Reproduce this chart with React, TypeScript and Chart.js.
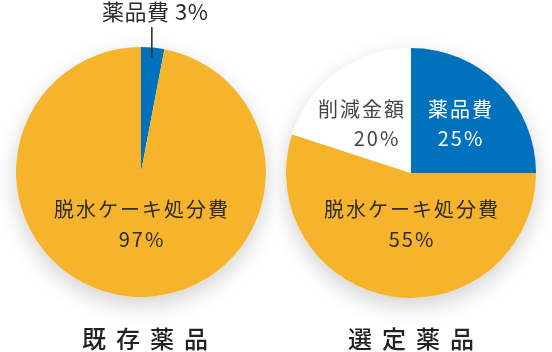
import React, { useEffect, useRef } from "react";
import { Chart, registerables } from "chart.js";

Chart.register(...registerables);

const categories = ["薬品費", "脱水ケーキ処分費", "削減金額"];
const existingValues = [3, 97, 0];
const selectedValues = [25, 55, 20];
const pieTitles = ["既存薬品", "選定薬品"];
const sliceColors = ["#0071BC", "#F6B42C", "#FFFFFF"];

const FONT = "'Noto Sans CJK JP', 'Noto Sans', sans-serif";

type Lbl = { text: string; dx: number; dy: number; color: string; size?: number; weight?: string; spacing?: number };

function drawText(ctx: CanvasRenderingContext2D, l: Lbl, cx: number, cy: number) {
  const size = l.size ?? 20;
  const spacing = l.spacing ?? 2;
  ctx.save();
  ctx.font = `${l.weight ?? "400"} ${size}px ${FONT}`;
  (ctx as any).letterSpacing = `${spacing}px`;
  ctx.fillStyle = l.color;
  ctx.textAlign = "center";
  ctx.textBaseline = "middle";
  ctx.fillText(l.text, cx + l.dx + spacing / 2, cy + l.dy);
  ctx.restore();
}

function makePlugin(labels: Lbl[], leader: boolean) {
  return {
    id: "customLabels",
    beforeDatasetsDraw(chart: any) {
      const arc = chart.getDatasetMeta(0).data[0];
      const ctx = chart.ctx as CanvasRenderingContext2D;
      ctx.save();
      ctx.shadowColor = "rgba(0,0,0,0.18)";
      ctx.shadowBlur = 22;
      ctx.shadowOffsetY = 8;
      ctx.fillStyle = "#fff";
      ctx.beginPath();
      ctx.arc(arc.x, arc.y, arc.outerRadius, 0, Math.PI * 2);
      ctx.fill();
      ctx.restore();
    },
    afterDatasetsDraw(chart: any) {
      const meta = chart.getDatasetMeta(0);
      const arc = meta.data[0];
      const cx = arc.x, cy = arc.y, r = arc.outerRadius;
      const ctx = chart.ctx as CanvasRenderingContext2D;
      if (leader) {
        const mid = (arc.startAngle + arc.endAngle) / 2;
        const lx = cx + Math.cos(mid) * r * 0.92;
        const ly = cy + Math.sin(mid) * r * 0.92;
        ctx.save();
        ctx.strokeStyle = "#333";
        ctx.lineWidth = 1.6;
        ctx.beginPath();
        ctx.moveTo(lx, ly);
        ctx.lineTo(lx, cy - 145);
        ctx.stroke();
        ctx.restore();
      }
      labels.forEach((l) => drawText(ctx, l, cx, cy));
    },
  };
}

function PieCanvas(props: { values: number[]; labels: Lbl[]; leader: boolean; left: number; pad: any }) {
  const ref = useRef<HTMLCanvasElement>(null);
  useEffect(() => {
    const chart = new Chart(ref.current!, {
      type: "pie",
      data: {
        labels: categories,
        datasets: [
          {
            data: props.values,
            backgroundColor: sliceColors,
            borderWidth: 0,
          },
        ],
      },
      options: {
        responsive: false,
        animation: false,
        layout: { padding: props.pad },
        plugins: { legend: { display: false }, tooltip: { enabled: false } },
      },
      plugins: [makePlugin(props.labels, props.leader)],
    });
    return () => chart.destroy();
  }, []);
  return (
    <canvas
      ref={ref}
      width={276}
      height={352}
      style={{ position: "absolute", left: props.left, top: 0, width: 276, height: 352 }}
    />
  );
}

export default function App() {
  const dark = "#2b2b2b";
  const leftLabels: Lbl[] = [
    { text: `${categories[0]} ${existingValues[0]}%`, dx: 14, dy: -160, color: dark, size: 22, spacing: 0.5 },
    { text: categories[1], dx: 0, dy: 37, color: dark },
    { text: `${existingValues[1]}%`, dx: 0, dy: 67, color: dark },
    { text: pieTitles[0], dx: 4, dy: 167, color: "#222", size: 24, weight: "500", spacing: 10 },
  ];
  const rightLabels: Lbl[] = [
    { text: categories[0], dx: 49, dy: -64, color: "#fff" },
    { text: `${selectedValues[0]}%`, dx: 49, dy: -35, color: "#fff" },
    { text: categories[2], dx: -50, dy: -64, color: "#444" },
    { text: `${selectedValues[2]}%`, dx: -35, dy: -35, color: "#444" },
    { text: categories[1], dx: 0, dy: 36, color: dark },
    { text: `${selectedValues[1]}%`, dx: 0, dy: 66, color: dark },
    { text: pieTitles[1], dx: 0, dy: 166, color: "#222", size: 24, weight: "500", spacing: 10 },
  ];
  return (
    <div style={{ position: "absolute", left: 0, top: 0, width: 552, height: 352, background: "#fff" }}>
      <PieCanvas values={existingValues} labels={leftLabels} leader={true} left={0} pad={{ left: 16, right: 10, top: 47, bottom: 55 }} />
      <PieCanvas values={selectedValues} labels={rightLabels} leader={false} left={276} pad={{ left: 10, right: 16, top: 48, bottom: 54 }} />
    </div>
  );
}
